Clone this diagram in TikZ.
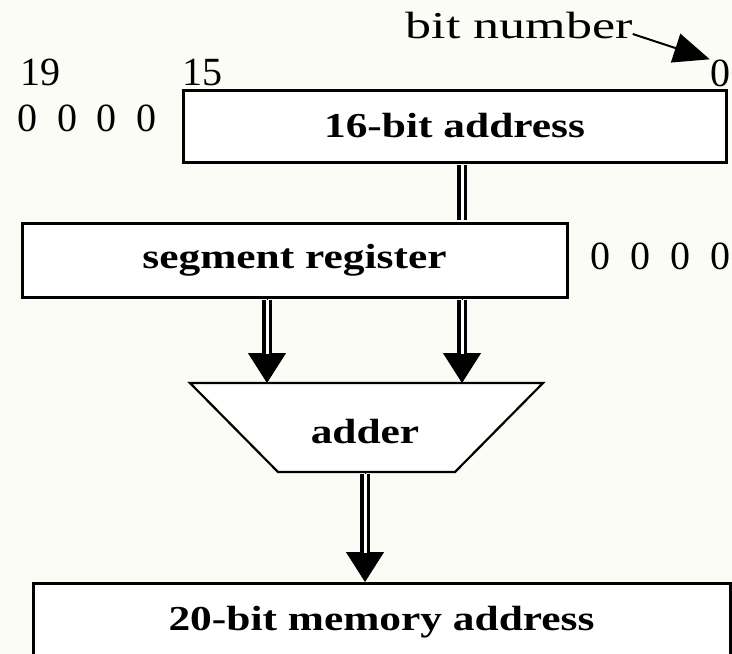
\documentclass[tikz,border=0pt]{standalone}
\usepackage{fontspec}
\setmainfont{Liberation Serif}
\usepackage{graphicx}
\usetikzlibrary{arrows.meta}
\definecolor{paper}{RGB}{252,252,246}
% horizontally stretched text
\newcommand\widetext[2]{\scalebox{#1}[1]{#2}}

\begin{document}
\begin{tikzpicture}[x=1pt,y=-1pt,
  box/.style={draw, line width=3pt, fill=white, rectangle, inner sep=0pt},
  boldlbl/.style={font=\fontsize{35}{40}\selectfont\bfseries},
  digits/.style={font=\fontsize{40}{44}\selectfont, inner sep=0pt},
  dbl/.style={line width=3.5pt, double=white, double distance=3pt,
    shorten <=1.5pt, shorten >=1.5pt},
  busarrow/.style={line width=1pt, -{Triangle[length=30pt,width=38pt]},
    postaction={draw, -, line width=3.5pt, double=white, double distance=3pt,
      shorten <=1.5pt, shorten >=29pt}}
]
\useasboundingbox (0,0) rectangle (732,654);
\clip (0,0) rectangle (732,654);
\fill[paper] (0,0) rectangle (732,654);

% registers
\node[box, minimum width=543pt, minimum height=72pt, boldlbl] (addr) at (454.5,126)
  {\widetext{1.24}{16-bit address}};
\node[box, minimum width=545pt, minimum height=74pt, boldlbl] (seg) at (294.5,260)
  {\widetext{1.24}{segment register}};

% adder
\coordinate (tl) at (190,383);
\coordinate (tr) at (543,383);
\coordinate (br) at (455,472);
\coordinate (bl) at (278,472);
\draw[line width=2.2pt, fill=white] (tl) -- (tr) -- (br) -- (bl) -- cycle;
\node[boldlbl] (adder) at (365,432) {\widetext{1.24}{adder}};

% result register, running past the lower edge
\node[box, anchor=north, minimum width=697pt, inner ysep=10pt,
  text height=37pt, text depth=60pt, boldlbl] (mem) at (381.5,582)
  {\widetext{1.24}{20-bit memory address}};

% buses
\coordinate (busL) at (267,383);
\coordinate (busR) at (462,383);
\coordinate (busD) at (365,472);
\draw[dbl] (addr.south -| busR) -- (seg.north -| busR);
\draw[busarrow] (seg.south -| busL) -- (busL);
\draw[busarrow] (seg.south -| busR) -- (busR);
\draw[busarrow] (busD) -- (busD |- mem.north);

% bit positions and padding
\node[digits] (b19) at (40,72) {19};
\node[digits] (b15) at (202,72) {15};
\node[digits] (padL) at (87,118) {\spaceskip=20pt 0 0 0 0};
\node[digits] (padR) at (660,256) {\spaceskip=20pt 0 0 0 0};
\node[digits] (topzero) at (720,73) {0};
\node[font=\fontsize{38}{42}\selectfont, inner sep=0pt] (bitnum) at (519,25)
  {\widetext{1.37}{bit number}};
\draw[line width=2pt, -{Triangle[length=36pt,width=30pt]}]
  ([yshift=4pt]bitnum.base east) -- (topzero.north west);
\end{tikzpicture}
\end{document}
